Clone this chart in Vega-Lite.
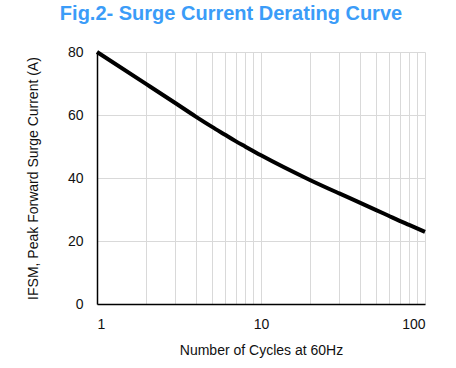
{
  "$schema": "https://vega.github.io/schema/vega-lite/v6.json",
  "width": 328,
  "height": 252,
  "autosize": {"type": "none"},
  "padding": {"left": 97, "top": 52, "right": 31, "bottom": 64},
  "background": "white",
  "title": {
    "text": "Fig.2- Surge Current Derating Curve",
    "font": "Liberation Sans",
    "fontSize": 20,
    "fontWeight": "bold",
    "color": "#3b9cf8",
    "anchor": "middle",
    "dx": -30,
    "offset": 20
  },
  "config": {
    "view": {"stroke": null},
    "axis": {
      "labelFont": "Liberation Sans",
      "titleFont": "Liberation Sans",
      "labelFontSize": 14,
      "titleFontSize": 14,
      "titleFontWeight": "normal",
      "labelColor": "#111",
      "titleColor": "#111",
      "gridColor": "#d9d9d9",
      "gridWidth": 1,
      "domainColor": "#000",
      "domainWidth": 1.5,
      "ticks": false
    }
  },
  "data": {
    "values": [
      {"cycles": 1, "current": 80},
      {"cycles": 2, "current": 69.8},
      {"cycles": 3, "current": 63.8},
      {"cycles": 4, "current": 59.5},
      {"cycles": 5, "current": 56.3},
      {"cycles": 6, "current": 53.8},
      {"cycles": 7, "current": 51.7},
      {"cycles": 8, "current": 50},
      {"cycles": 10, "current": 47.2},
      {"cycles": 20, "current": 39.3},
      {"cycles": 30, "current": 35.1},
      {"cycles": 40, "current": 32.2},
      {"cycles": 50, "current": 29.9},
      {"cycles": 60, "current": 28},
      {"cycles": 70, "current": 26.4},
      {"cycles": 80, "current": 25.1},
      {"cycles": 100, "current": 22.9}
    ]
  },
  "mark": {"type": "line", "color": "#000", "strokeWidth": 4, "interpolate": "monotone", "strokeCap": "butt"},
  "encoding": {
    "x": {
      "field": "cycles",
      "type": "quantitative",
      "scale": {"type": "log", "domain": [1, 100], "nice": false},
      "axis": {
        "title": "Number of Cycles at 60Hz",
        "values": [1, 2, 3, 4, 5, 6, 7, 8, 9, 10, 20, 30, 40, 50, 60, 70, 80, 90, 100],
        "labelExpr": "datum.value == 1 || datum.value == 10 || datum.value == 100 ? datum.value + '' : ''",
        "labelOverlap": false,
        "labelPadding": 13,
        "titlePadding": 12
      }
    },
    "y": {
      "field": "current",
      "type": "quantitative",
      "scale": {"domain": [0, 80], "nice": false},
      "axis": {
        "title": "IFSM, Peak Forward Surge Current (A)",
        "values": [0, 20, 40, 60, 80],
        "labelPadding": 14,
        "titlePadding": 27
      }
    }
  }
}
